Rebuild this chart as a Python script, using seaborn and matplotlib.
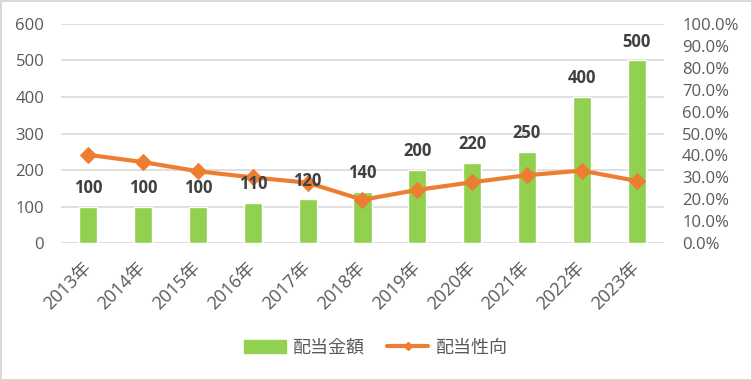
import matplotlib
matplotlib.use("Agg")
import matplotlib.pyplot as plt
import seaborn as sns
import pandas as pd
from matplotlib.patches import Patch
from matplotlib.lines import Line2D
from matplotlib.ticker import PercentFormatter

years = ["2013年", "2014年", "2015年", "2016年", "2017年", "2018年",
         "2019年", "2020年", "2021年", "2022年", "2023年"]
dividend = [100, 100, 100, 110, 120, 140, 200, 220, 250, 400, 500]
payout = [40.3, 37.0, 32.8, 30.0, 27.6, 19.8, 24.3, 27.8, 31.0, 33.1, 28.4]

bar_color = "#92D050"
line_color = "#ED7D31"
text_color = "#595959"
grid_color = "#D9D9D9"

sns.set_theme(style="white")
plt.rcParams["font.family"] = ["Open Sans", "Noto Sans CJK JP", "DejaVu Sans"]

df = pd.DataFrame({"year": years, "dividend": dividend, "payout": payout})

fig = plt.figure(figsize=(7.52, 3.80), dpi=100)
fig.patch.set_edgecolor(grid_color)
fig.patch.set_linewidth(2)
ax = fig.add_axes([0.081, 0.36, 0.802, 0.577])

sns.barplot(data=df, x="year", y="dividend", color=bar_color, width=0.33,
            saturation=1, ax=ax, zorder=2)
ax.set_ylim(0, 600)
ax.set_yticks(range(0, 601, 100))
ax.yaxis.grid(True, color=grid_color, linewidth=1.2, zorder=0)
ax.set_axisbelow(True)
for s in ax.spines.values():
    s.set_visible(False)
ax.set_xlabel("")
ax.set_ylabel("")
ax.tick_params(axis="y", colors=text_color, labelsize=12, length=0, pad=12)
ax.tick_params(axis="x", colors=text_color, labelsize=13, length=0, pad=16)
plt.setp(ax.get_xticklabels(), rotation=45, ha="right", va="center",
         rotation_mode="anchor")

ax2 = ax.twinx()
sns.lineplot(data=df, x="year", y="payout", color=line_color, linewidth=3,
             marker="D", markersize=8, markeredgecolor=line_color,
             sort=False, ax=ax2, zorder=3)
ax2.set_ylim(0, 100)
ax2.set_yticks(range(0, 101, 10))
ax2.yaxis.set_major_formatter(PercentFormatter(decimals=1))
ax2.set_ylabel("")
ax2.tick_params(axis="y", colors=text_color, labelsize=12, length=0, pad=13)
for s in ax2.spines.values():
    s.set_visible(False)
ax.set_xlim(-0.5, len(years) - 0.5)

# data labels drawn on the top axes so they sit over the line
for bar, v in zip(ax.patches, dividend):
    ax2.annotate(f"{v}", xy=(bar.get_x() + bar.get_width() / 2, bar.get_height()),
                 xycoords=ax.transData, xytext=(0, 7), textcoords="offset points",
                 ha="center", va="bottom", fontsize=12, fontweight="bold",
                 color="#404040", zorder=5)

handles = [Patch(color=bar_color, label="配当金額"),
           Line2D([0], [0], color=line_color, linewidth=3, marker="D",
                  markersize=4, label="配当性向")]
fig.legend(handles=handles, loc="center", bbox_to_anchor=(0.5, 0.085),
           ncol=2, frameon=False, fontsize=13, labelcolor=text_color,
           handlelength=2.3, columnspacing=1.2, handletextpad=0.4)

fig.savefig("out.png", dpi=100)
